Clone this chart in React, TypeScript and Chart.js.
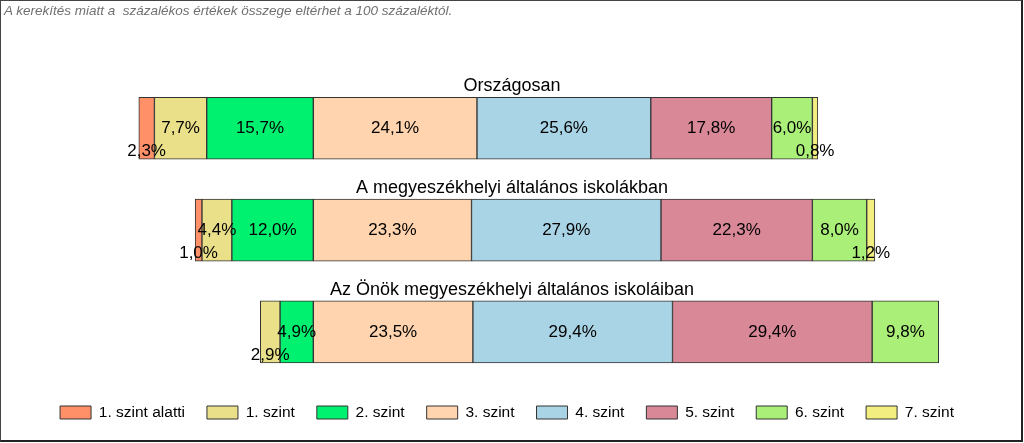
import React, { useEffect, useRef } from "react";
import { Chart, registerables } from "chart.js";

Chart.register(...registerables);

// ---------- data ----------
const categories = [
  "Országosan",
  "A megyeszékhelyi általános iskolákban",
  "Az Önök megyeszékhelyi általános iskoláiban",
];
const levelNames = [
  "1. szint alatti",
  "1. szint",
  "2. szint",
  "3. szint",
  "4. szint",
  "5. szint",
  "6. szint",
  "7. szint",
];
const levelBelow1 = [2.3, 1.0, 0];
const level1 = [7.7, 4.4, 2.9];
const level2 = [15.7, 12.0, 4.9];
const level3 = [24.1, 23.3, 23.5];
const level4 = [25.6, 27.9, 29.4];
const level5 = [17.8, 22.3, 29.4];
const level6 = [6.0, 8.0, 9.8];
const level7 = [0.8, 1.2, 0];
const levelColors = [
  "#FF9068",
  "#EAE08A",
  "#00F070",
  "#FFD4AE",
  "#A9D4E5",
  "#D98898",
  "#AAEF78",
  "#F2EE80",
];
const noteText =
  "A kerekítés miatt a  százalékos értékek összege eltérhet a 100 százaléktól.";

const series = [levelBelow1, level1, level2, level3, level4, level5, level6, level7];
const LEFT_LEVELS = 3; // levels drawn to the left of the zero line

const FONT = "'Liberation Sans', Arial, sans-serif";

function rangesFor(li: number) {
  return categories.map((_, ci) => {
    const v = series[li][ci];
    if (!v) return null;
    if (li < LEFT_LEVELS) {
      let end = 0;
      for (let k = li + 1; k < LEFT_LEVELS; k++) end -= series[k][ci];
      return [end - v, end];
    }
    let start = 0;
    for (let k = LEFT_LEVELS; k < li; k++) start += series[k][ci];
    return [start, start + v];
  });
}

const fmt = (v: number) => v.toFixed(1).replace(".", ",") + "%";

const labelPlugin = {
  id: "valueLabels",
  afterDatasetsDraw(chart: any) {
    const ctx = chart.ctx;
    ctx.save();
    ctx.font = `17px ${FONT}`;
    ctx.fillStyle = "#000";
    ctx.textAlign = "center";
    ctx.textBaseline = "middle";
    chart.data.datasets.forEach((_ds: any, di: number) => {
      const meta = chart.getDatasetMeta(di);
      meta.data.forEach((el: any, i: number) => {
        const v = series[di][i];
        if (!v) return;
        const w = Math.abs(el.x - el.base);
        const cx = (el.x + el.base) / 2;
        const cy = w < 25 ? el.y + 23 : el.y;
        ctx.fillText(fmt(v), cx, cy);
      });
    });
    ctx.restore();
  },
};

const titlePlugin = {
  id: "rowTitles",
  afterDraw(chart: any) {
    const ctx = chart.ctx;
    const yScale = chart.scales.y;
    ctx.save();
    ctx.font = `18px ${FONT}`;
    ctx.fillStyle = "#000";
    ctx.textAlign = "center";
    ctx.textBaseline = "alphabetic";
    categories.forEach((c, i) => {
      const y = yScale.getPixelForValue(i) - 31 - 6;
      ctx.fillText(c, chart.width / 2, y);
    });
    ctx.restore();
  },
};

export default function App() {
  const ref = useRef<HTMLCanvasElement | null>(null);

  useEffect(() => {
    document.body.style.margin = "0";
    if (!ref.current) return;
    const chart = new Chart(ref.current, {
      type: "bar",
      data: {
        labels: categories,
        datasets: levelNames.map((name, li) => ({
          label: name,
          data: rangesFor(li) as any,
          backgroundColor: levelColors[li],
          borderColor: "#333333",
          borderWidth: 1,
          borderSkipped: false,
          grouped: false,
          barThickness: 62,
        })),
      },
      options: {
        indexAxis: "y",
        animation: false,
        responsive: false,
        maintainAspectRatio: false,
        devicePixelRatio: 1,
        layout: { padding: { left: 25, right: 35, top: 77.4, bottom: 12.75 } },
        scales: {
          x: {
            display: false,
            min: -42.46,
            max: 99.51,
            stacked: false,
          },
          y: { display: false },
        },
        plugins: {
          tooltip: { enabled: false },
          legend: {
            position: "bottom",
            labels: {
              boxWidth: 31,
              boxHeight: 13,
              padding: 22,
              color: "#000",
              font: { size: 15.5, family: FONT },
            },
          },
        },
      },
      plugins: [labelPlugin, titlePlugin],
    });
    return () => chart.destroy();
  }, []);

  return (
    <div style={{ position: "fixed", left: 0, top: 0, width: 1024, height: 443, background: "#fff" }}>
      <canvas
        ref={ref}
        width={1024}
        height={443}
        style={{ position: "absolute", left: 0, top: 0, width: 1024, height: 443 }}
      />
      <div
        style={{
          position: "absolute",
          left: 0,
          top: 0,
          width: 1023,
          height: 442,
          boxSizing: "border-box",
          borderTop: "1px solid #444",
          borderLeft: "1px solid #444",
          borderRight: "2px solid #222",
          borderBottom: "2px solid #222",
          pointerEvents: "none",
        }}
      />
      <div
        style={{
          position: "absolute",
          left: 4,
          top: 3,
          font: `italic 13.5px ${FONT}`,
          lineHeight: "15px",
          color: "#707070",
          whiteSpace: "pre",
        }}
      >
        {noteText}
      </div>
    </div>
  );
}
